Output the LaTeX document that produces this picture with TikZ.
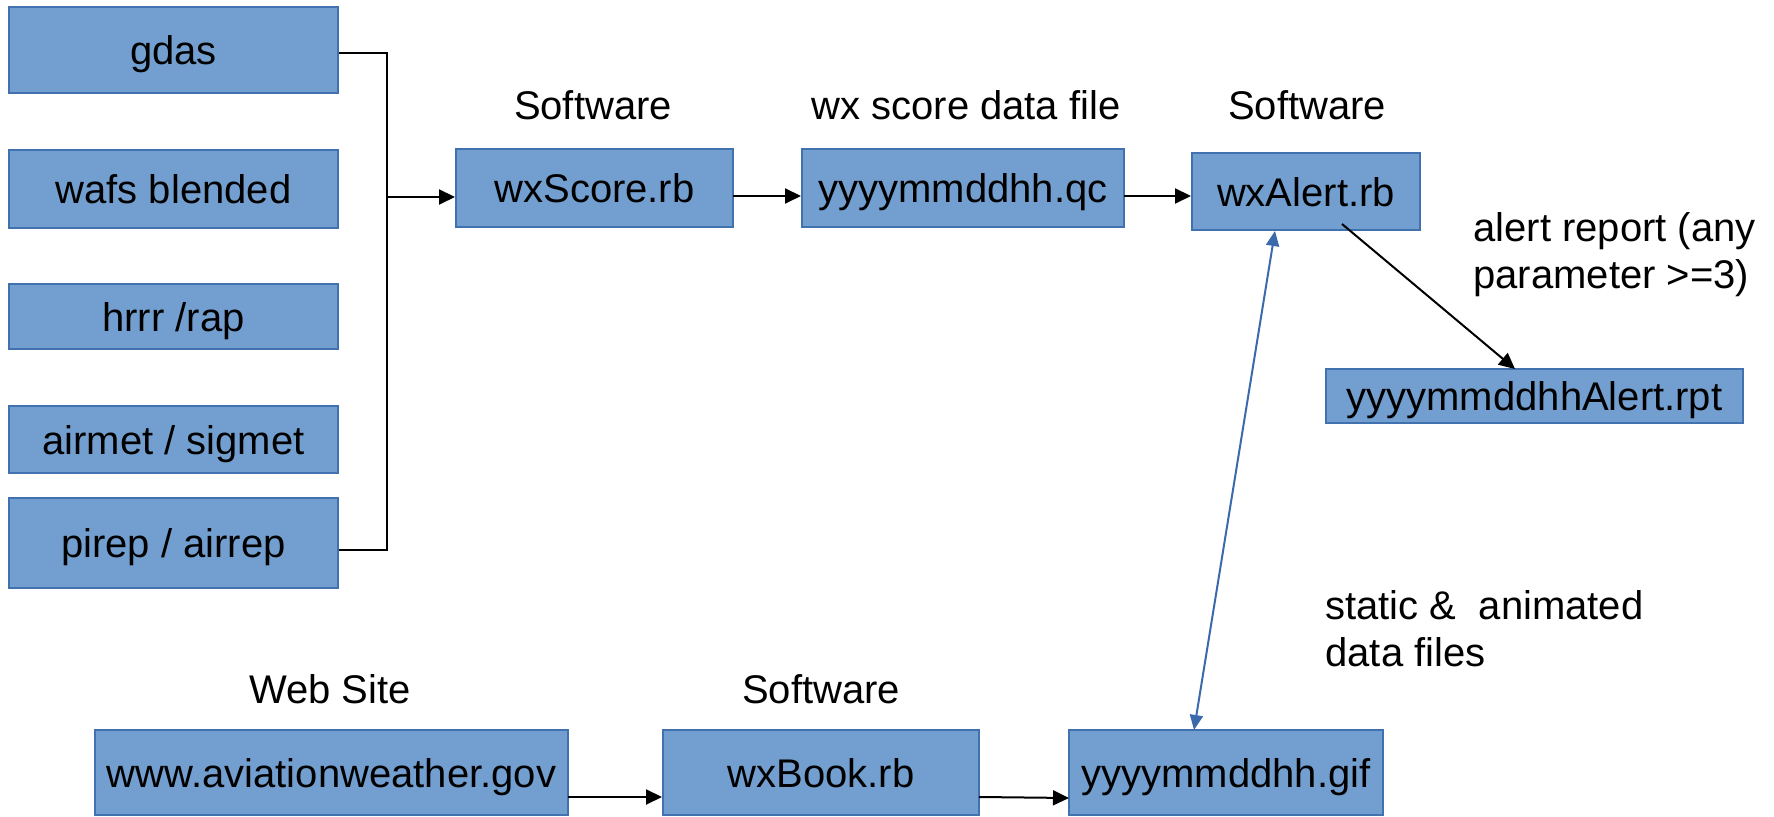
\documentclass[tikz,border=0pt]{standalone}
\usepackage{fontspec}
\setmainfont{Liberation Sans}
\usetikzlibrary{arrows.meta}
\definecolor{boxfill}{RGB}{114,159,207}
\definecolor{boxline}{RGB}{65,113,175}
\definecolor{linkblue}{RGB}{58,106,172}
\begin{document}
\begin{tikzpicture}[x=0.5pt,y=-0.5pt,
  box/.style 2 args={draw=boxline, fill=boxfill, line width=1pt, inner sep=0pt,
     text height=14.8pt, text depth=0pt,
     minimum width=#1*0.5pt, minimum height=#2*0.5pt, font=\fontsize{20}{24}\selectfont},
  lbl/.style={inner sep=0pt, font=\fontsize{20}{24}\selectfont},
  mlbl/.style={inner sep=0pt, anchor=west, align=left, font=\fontsize{20}{23.5}\selectfont},
  link/.style={line width=1pt, black},
  arr/.style={link, -{Triangle[length=8pt,width=7.5pt]}},
  barr/.style={line width=1pt, linkblue, {Triangle[length=7.5pt,width=6.5pt]}-{Triangle[length=7.5pt,width=6.5pt]}}
]
\useasboundingbox (0,0) rectangle (1774,817);
% left column
\node[box={329}{86}] (gdas) at (173.5,50) {gdas};
\node[box={329}{78}] (wafs) at (173.5,189) {wafs blended};
\node[box={329}{65}] (hrrr) at (173.5,316.5) {hrrr /rap};
\node[box={329}{67}] (airmet) at (173.5,439.5) {airmet / sigmet};
\node[box={329}{90}] (pirep) at (173.5,543) {pirep / airrep};
% top row
\node[box={277}{78}] (score) at (594.5,188) {wxScore.rb};
\node[box={322}{78}] (qc) at (963,188) {yyyymmddhh.qc};
\node[box={228}{77}] (alert) at (1306,191.5) {wxAlert.rb};
\node[box={417}{54}] (rpt) at (1534.5,396) {yyyymmddhhAlert.rpt};
% bottom row
\node[box={473}{85}] (www) at (331.5,772.5) {www.aviationweather.gov};
\node[box={316}{85}] (book) at (821,772.5) {wxBook.rb};
\node[box={314}{85}] (gif) at (1226,772.5) {yyyymmddhh.gif};
% labels
\node[lbl] (l1) at (593,105) {Software};
\node[lbl] (l2) at (966,105) {wx score data file};
\node[lbl] (l3) at (1307,105) {Software};
\node[mlbl] (l4) at (1473,255) {alert report (any\\parameter >=3)};
\node[mlbl] (l5) at (1325,629) {static \&\ \ animated\\data files};
\node[lbl] (l6) at (330,689) {Web Site};
\node[lbl] (l7) at (821,689) {Software};
% connectors
\coordinate (bus) at (387,197);
\draw[link] ([yshift=-1.5pt]gdas.east) -| (bus) |- ([yshift=-3.5pt]pirep.east);
\draw[arr] (bus) -- (bus -| score.west);
\coordinate (s1) at (733,196);
\draw[arr] (s1) -- (s1 -| qc.west);
\coordinate (s2) at (1124,196);
\draw[arr] (s2) -- (s2 -| alert.west);
\coordinate (a1) at (1342,224);
\coordinate (a2) at (1515,369);
\draw[arr] (a1) -- (a2);
\coordinate (w1) at (568,797);
\draw[arr] (w1) -- (w1 -| book.west);
\coordinate (b1) at (979,797);
\coordinate (b2) at (1069,798);
\draw[arr] (b1) -- (b2);
\coordinate (u1) at (1275,231);
\coordinate (u2) at (1194,730);
\draw[barr] (u1) -- (u2);
\end{tikzpicture}
\end{document}
